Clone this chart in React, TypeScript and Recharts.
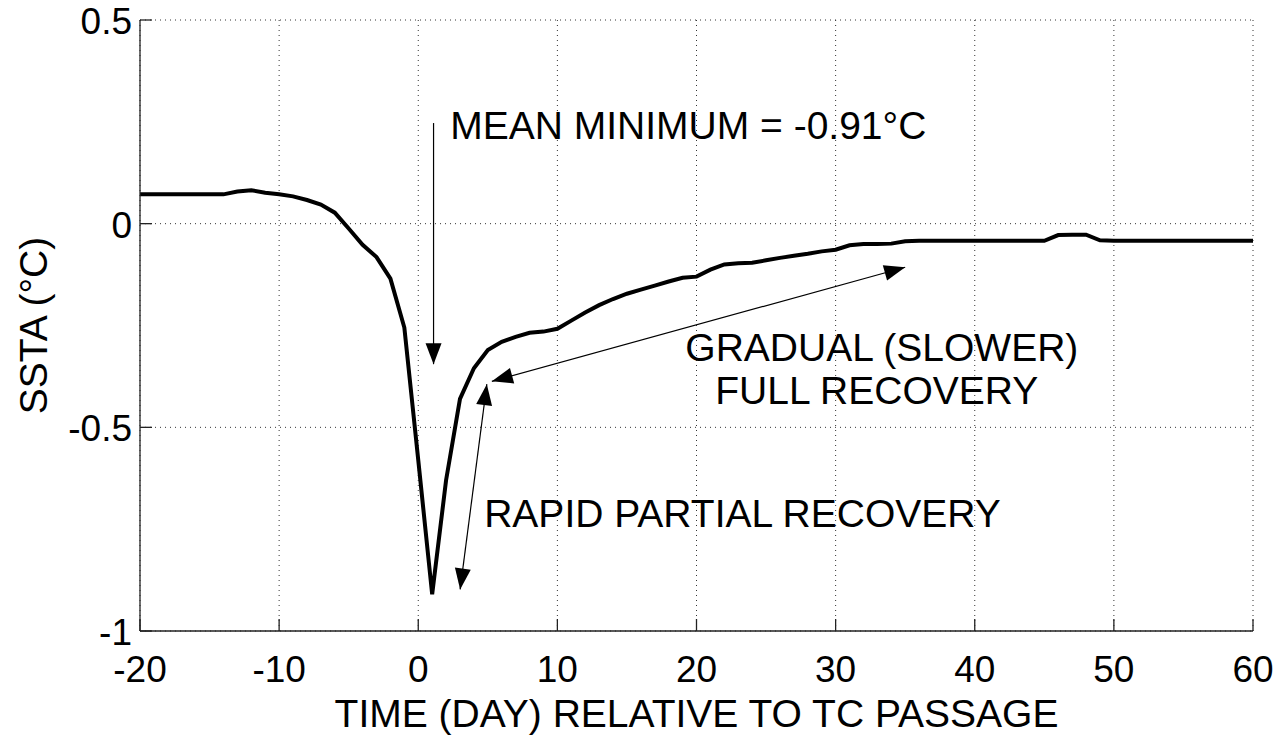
import {
  LineChart,
  Line,
  XAxis,
  YAxis,
  CartesianGrid,
  ReferenceLine,
  ReferenceDot,
  Label,
} from "recharts";

const DAYS = [
  -20, -19, -18, -17, -16, -15, -14, -13, -12, -11, -10, -9, -8, -7, -6, -5, -4,
  -3, -2, -1, 0, 1, 2, 3, 4, 5, 6, 7, 8, 9, 10, 11, 12, 13, 14, 15, 16, 17, 18,
  19, 20, 21, 22, 23, 24, 25, 26, 27, 28, 29, 30, 31, 32, 33, 34, 35, 36, 37,
  38, 39, 40, 41, 42, 43, 44, 45, 46, 47, 48, 49, 50, 51, 52, 53, 54, 55, 56,
  57, 58, 59, 60,
];

const SSTA = [
  0.072, 0.072, 0.072, 0.072, 0.072, 0.072, 0.072, 0.079, 0.082, 0.076, 0.072,
  0.067, 0.058, 0.047, 0.027, -0.012, -0.052, -0.082, -0.135, -0.255, -0.58,
  -0.91, -0.63, -0.43, -0.355, -0.31, -0.29, -0.278, -0.268, -0.265, -0.258,
  -0.238, -0.218, -0.2, -0.185, -0.172, -0.162, -0.152, -0.142, -0.133, -0.13,
  -0.113, -0.1, -0.097, -0.096, -0.09, -0.084, -0.079, -0.074, -0.068, -0.064,
  -0.053, -0.05, -0.05, -0.049, -0.043, -0.042, -0.042, -0.042, -0.042, -0.042,
  -0.042, -0.042, -0.042, -0.042, -0.042, -0.028, -0.027, -0.027, -0.041,
  -0.042, -0.042, -0.042, -0.042, -0.042, -0.042, -0.042, -0.042, -0.042,
  -0.042, -0.042,
];

const X_TICKS = [-20, -10, 0, 10, 20, 30, 40, 50, 60];
const Y_TICKS = [-1, -0.5, 0, 0.5];

// annotation arrows, in data units: [x1, y1, x2, y2]
const ARROW_MIN = [1.1, 0.247, 1.1, -0.345];
const ARROW_RAPID = [4.93, -0.394, 3.01, -0.898];
const ARROW_GRADUAL = [5.29, -0.387, 35.0, -0.107];

// annotation texts: [x, y(baseline), text]
const NOTES: [number, number, string][] = [
  [2.3, 0.207, "MEAN MINIMUM = -0.91°C"],
  [19.2, -0.338, "GRADUAL (SLOWER)"],
  [21.35, -0.443, "FULL RECOVERY"],
  [4.74, -0.745, "RAPID PARTIAL RECOVERY"],
];

const FONT = "'Liberation Sans', Arial, Helvetica, sans-serif";
const AXIS = "#222";
const TICK_LEN = 12;

const data = DAYS.map((d, i) => ({ day: d, ssta: SSTA[i] }));

function head(x: number, y: number, fx: number, fy: number) {
  // filled triangle with its tip at (x, y), pointing away from (fx, fy)
  const dx = x - fx;
  const dy = y - fy;
  const len = Math.hypot(dx, dy) || 1;
  const ux = dx / len;
  const uy = dy / len;
  const L = 21;
  const W = 8;
  const bx = x - ux * L;
  const by = y - uy * L;
  return `${x},${y} ${bx - uy * W},${by + ux * W} ${bx + uy * W},${by - ux * W}`;
}

function arrow(both: boolean) {
  return (p: any) => (
    <g>
      <line x1={p.x1} y1={p.y1} x2={p.x2} y2={p.y2} stroke="#000" strokeWidth={1.2} />
      <polygon points={head(p.x2, p.y2, p.x1, p.y1)} fill="#000" />
      {both && <polygon points={head(p.x1, p.y1, p.x2, p.y2)} fill="#000" />}
    </g>
  );
}

const noteShape = (text: string) => (p: any) => (
  <text x={p.cx} y={p.cy} fontSize={39} fontFamily={FONT} fill="#000">
    {text}
  </text>
);

const BottomTick = (p: any) => (
  <g>
    <line x1={p.x} y1={p.y} x2={p.x} y2={p.y - TICK_LEN} stroke={AXIS} strokeWidth={1.3} />
    <text x={p.x} y={p.y + 51} textAnchor="middle" fontSize={37} fontFamily={FONT} fill="#000">
      {p.payload.value}
    </text>
  </g>
);

const TopTick = (p: any) => (
  <line x1={p.x} y1={p.y} x2={p.x} y2={p.y + TICK_LEN} stroke={AXIS} strokeWidth={1.3} />
);

const LeftTick = (p: any) => (
  <g>
    <line x1={p.x} y1={p.y} x2={p.x + TICK_LEN} y2={p.y} stroke={AXIS} strokeWidth={1.3} />
    <text x={p.x - 8} y={p.y + 14} textAnchor="end" fontSize={37} fontFamily={FONT} fill="#000">
      {p.payload.value}
    </text>
  </g>
);

const RightTick = (p: any) => (
  <line x1={p.x} y1={p.y} x2={p.x - TICK_LEN} y2={p.y} stroke={AXIS} strokeWidth={1.3} />
);

export default function App() {
  return (
    <div style={{ position: "absolute", left: 0, top: 0, background: "#fff" }}>
      <LineChart
        width={1276}
        height={735}
        data={data}
        margin={{ top: 20, right: 23, bottom: 0, left: 0 }}
      >
        <CartesianGrid stroke="#333" strokeWidth={1} strokeDasharray="1 4" />
        <XAxis
          dataKey="day"
          type="number"
          domain={[-20, 60]}
          ticks={X_TICKS}
          interval={0}
          height={104}
          tickSize={0}
          tickMargin={0}
          tickLine={false}
          tick={BottomTick}
          axisLine={{ stroke: AXIS, strokeWidth: 1.3 }}
          allowDataOverflow
        >
          <Label
            content={(p: any) => (
              <text
                x={p.viewBox.x + p.viewBox.width / 2}
                y={p.viewBox.y + 96}
                textAnchor="middle"
                fontSize={39}
                fontFamily={FONT}
                fill="#000"
              >
                TIME (DAY) RELATIVE TO TC PASSAGE
              </text>
            )}
          />
        </XAxis>
        <XAxis
          xAxisId="top"
          orientation="top"
          dataKey="day"
          type="number"
          domain={[-20, 60]}
          ticks={X_TICKS}
          interval={0}
          height={0}
          tickSize={0}
          tickMargin={0}
          tickLine={false}
          tick={TopTick}
          axisLine={{ stroke: AXIS, strokeWidth: 1.3 }}
          allowDataOverflow
        />
        <YAxis
          type="number"
          domain={[-1, 0.5]}
          ticks={Y_TICKS}
          interval={0}
          width={140}
          tickSize={0}
          tickMargin={0}
          tickLine={false}
          tick={LeftTick}
          axisLine={{ stroke: AXIS, strokeWidth: 1.3 }}
          allowDataOverflow
        >
          <Label
            content={(p: any) => {
              const cx = p.viewBox.x + 33;
              const cy = p.viewBox.y + p.viewBox.height / 2;
              return (
                <text
                  x={cx}
                  y={cy}
                  transform={`rotate(-90, ${cx}, ${cy})`}
                  textAnchor="middle"
                  dominantBaseline="central"
                  fontSize={39}
                  fontFamily={FONT}
                  fill="#000"
                >
                  SSTA (°C)
                </text>
              );
            }}
          />
        </YAxis>
        <YAxis
          yAxisId="right"
          orientation="right"
          type="number"
          domain={[-1, 0.5]}
          ticks={Y_TICKS}
          interval={0}
          width={0}
          tickSize={0}
          tickMargin={0}
          tickLine={false}
          tick={RightTick}
          axisLine={{ stroke: AXIS, strokeWidth: 1.3 }}
          allowDataOverflow
        />
        <Line
          type="linear"
          dataKey="ssta"
          stroke="#000"
          strokeWidth={4}
          dot={false}
          isAnimationActive={false}
        />
        <ReferenceLine
          segment={[
            { x: ARROW_MIN[0], y: ARROW_MIN[1] },
            { x: ARROW_MIN[2], y: ARROW_MIN[3] },
          ]}
          shape={arrow(false)}
        />
        <ReferenceLine
          segment={[
            { x: ARROW_RAPID[0], y: ARROW_RAPID[1] },
            { x: ARROW_RAPID[2], y: ARROW_RAPID[3] },
          ]}
          shape={arrow(true)}
        />
        <ReferenceLine
          segment={[
            { x: ARROW_GRADUAL[0], y: ARROW_GRADUAL[1] },
            { x: ARROW_GRADUAL[2], y: ARROW_GRADUAL[3] },
          ]}
          shape={arrow(true)}
        />
        {NOTES.map(([x, y, t]) => (
          <ReferenceDot key={t} x={x} y={y} r={0} shape={noteShape(t)} />
        ))}
      </LineChart>
    </div>
  );
}
